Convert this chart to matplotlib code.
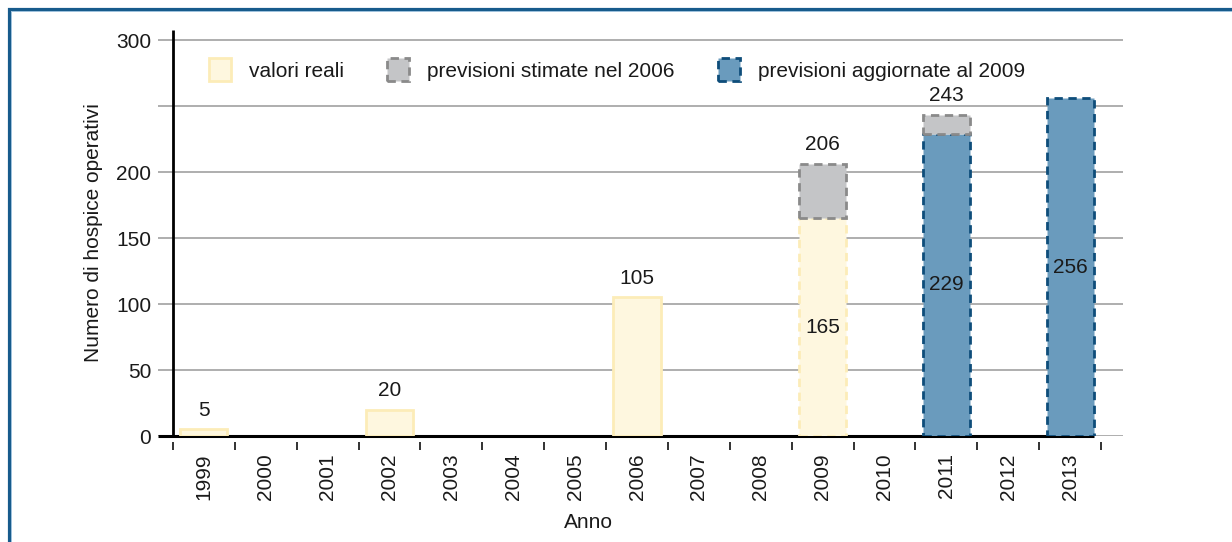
import matplotlib
matplotlib.use('Agg')
import matplotlib.pyplot as plt
from matplotlib import font_manager
from matplotlib.patches import Rectangle, Patch

# dati
anni = list(range(1999, 2014))
anni_reali = [1999, 2002, 2006, 2009]
valori_reali = [5, 20, 105, 165]
anni_stime_2006 = [2009, 2011]
stime_2006 = [206, 243]
anni_aggiornate = [2011, 2013]
previsioni_aggiornate = [229, 256]

# font: stretto se disponibile
nomi = set(f.name for f in font_manager.fontManager.ttflist)
if 'Liberation Sans Narrow' in nomi:
    plt.rcParams['font.family'] = ['Liberation Sans Narrow', 'DejaVu Sans']
    fs = 17
else:
    plt.rcParams['font.family'] = ['Liberation Sans', 'DejaVu Sans']
    fs = 15
col_testo = '#1a1a1a'

crema, crema_bordo = '#fef7df', '#fcecb8'
grigio, grigio_bordo = '#c4c5c7', '#8a8a8a'
blu, blu_bordo = '#6a9bbd', '#0e4d7a'
w = 0.76

fig = plt.figure(figsize=(12.32, 5.42), dpi=100)
ax = fig.add_axes([158 / 1232, 106 / 542, 965 / 1232, 406 / 542])

# cornice
fig.add_artist(Rectangle((8.5 / 1232, -0.1), 1.2, 1.1 - 8.5 / 542,
                         transform=fig.transFigure, fill=False,
                         edgecolor='#175b8c', lw=2.3))
fig.add_artist(Rectangle((10.5 / 1232, -0.1), 1.2, 1.1 - 10.5 / 542,
                         transform=fig.transFigure, fill=False,
                         edgecolor='#9cc0dc', lw=0.7))

pos = lambda lista: [a - anni[0] for a in lista]

# barre valori reali
stili_reali = ['solid', 'solid', 'solid', (0, (3, 2))]
for x, v, ls in zip(pos(anni_reali), valori_reali, stili_reali):
    ax.bar(x, v, width=w, color=crema, edgecolor=crema_bordo, lw=2,
           linestyle=ls, zorder=2)

# previsioni aggiornate al 2009
ax.bar(pos(anni_aggiornate), previsioni_aggiornate, width=w, color=blu,
       edgecolor=blu_bordo, lw=2, linestyle=(0, (3, 2)), zorder=2)

# previsioni 2006 (parte eccedente)
base = dict(zip(anni_reali, valori_reali))
base.update(dict(zip(anni_aggiornate, previsioni_aggiornate)))
basi = [base.get(a, 0) for a in anni_stime_2006]
ax.bar(pos(anni_stime_2006), [s - b for s, b in zip(stime_2006, basi)],
       bottom=basi, width=w, color=grigio, edgecolor=grigio_bordo, lw=2,
       linestyle=(0, (3, 2)), zorder=2)

# etichette
for x, v in zip(pos(anni_reali[:3]) + pos(anni_stime_2006),
                valori_reali[:3] + stime_2006):
    ax.annotate(str(v), (x, v), xytext=(0, 10), textcoords='offset points',
                ha='center', va='baseline', fontsize=fs, color=col_testo)
for x, v in zip(pos(anni_reali[3:]) + pos(anni_aggiornate),
                valori_reali[3:] + previsioni_aggiornate):
    ax.text(x, v / 2, str(v), ha='center', va='center', fontsize=fs,
            color=col_testo, zorder=4)

# assi
n = len(anni)
x_sx = -0.5 - 15 / 62
ax.set_xlim(x_sx, n - 0.5 + 22 / 62)
ax.set_ylim(0, 307.6)
for s in ax.spines.values():
    s.set_visible(False)
ax.spines['bottom'].set_position(('outward', 4))

ax.hlines(0, x_sx, n - 1 + w / 2, color='black', lw=2.2, zorder=1.5,
          clip_on=False)
ax.vlines(-0.5, 0, 307.6, color='black', lw=2, zorder=3, clip_on=False)

ax.set_yticks([0, 50, 100, 150, 200, 250, 300])
ax.set_yticklabels(['0', '50', '100', '150', '200', '', '300'])
ax.yaxis.grid(True, color='#a8a8a8', lw=1.3)
ax.set_axisbelow(True)
ax.tick_params(axis='y', length=0, pad=5, labelsize=fs, labelcolor=col_testo)

ax.set_xticks(range(n))
ax.set_xticklabels([str(a) for a in anni], rotation=90)
ax.set_xticks([i - 0.5 for i in range(n + 1)], minor=True)
ax.tick_params(axis='x', which='major', length=0, pad=8.5, labelsize=fs,
               labelcolor=col_testo)
ax.tick_params(axis='x', which='minor', length=6, width=1.3, color='#222222',
               direction='out')

ax.set_xlabel('Anno', fontsize=fs, color=col_testo)
ax.xaxis.set_label_coords(0.446, -0.19)
ax.set_ylabel('Numero di hospice operativi', fontsize=fs, color=col_testo,
              labelpad=9)

# legenda
maniglie = [
    Patch(facecolor=crema, edgecolor=crema_bordo, lw=2, label='valori reali'),
    Patch(facecolor=grigio, edgecolor=grigio_bordo, lw=2, linestyle=(0, (3, 2)),
          label='previsioni stimate nel 2006'),
    Patch(facecolor=blu, edgecolor=blu_bordo, lw=2, linestyle=(0, (3, 2)),
          label='previsioni aggiornate al 2009'),
]
ax.legend(handles=maniglie, ncol=3, loc='upper left',
          bbox_to_anchor=(0.053, 0.93), frameon=False, fontsize=fs,
          handlelength=1.05, handleheight=1.3, handletextpad=0.85,
          columnspacing=2.1, borderpad=0, borderaxespad=0, labelcolor=col_testo)

fig.savefig('out.png', dpi=100)
